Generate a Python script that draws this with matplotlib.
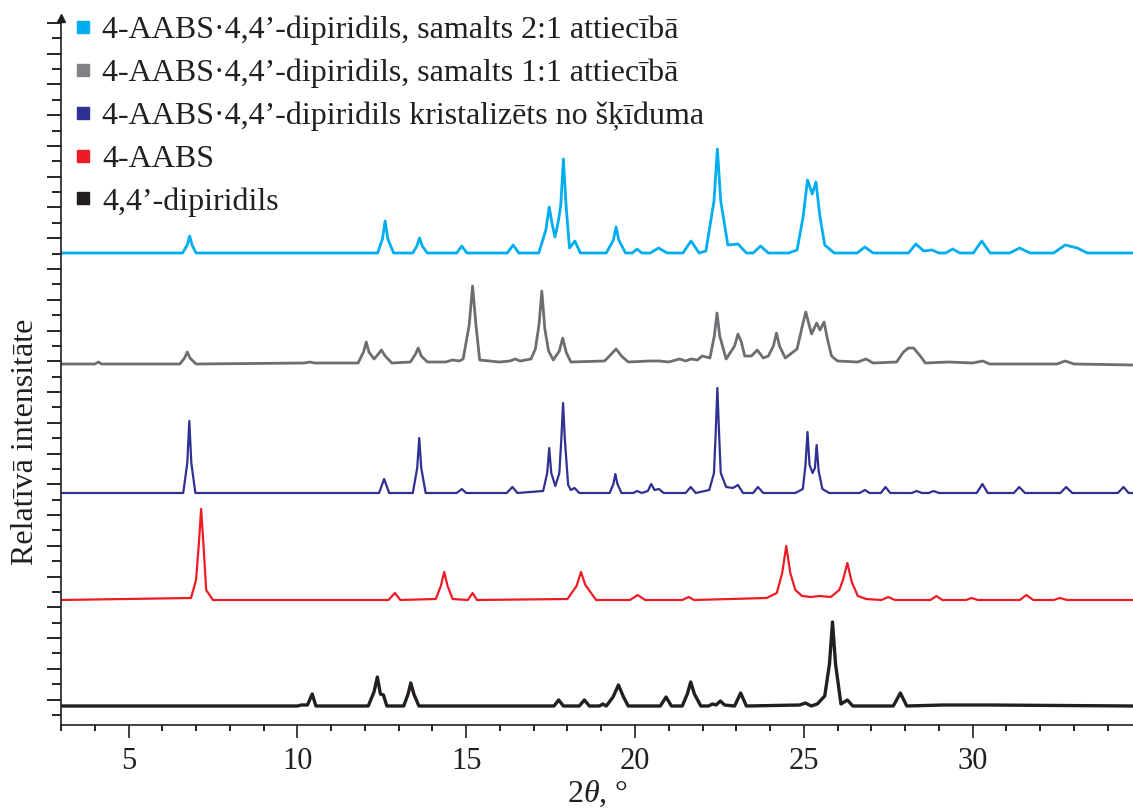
import numpy as np
import matplotlib
matplotlib.use('Agg')
import matplotlib.pyplot as plt
from matplotlib.lines import Line2D
from matplotlib.ticker import MultipleLocator, FixedLocator

# 2theta / intensity vertices (intensity above own baseline)
cyan_x = [3.0, 6.6, 6.74, 6.81, 6.88, 7.0,
          12.38, 12.52, 12.60, 12.68, 12.85,
          13.42, 13.54, 13.62, 13.70, 13.85,
          14.72, 14.87, 15.02,
          16.22, 16.39, 16.56,
          17.15, 17.36, 17.46, 17.54, 17.63, 17.72, 17.80, 17.88, 17.96, 18.06, 18.22, 18.38,
          19.15, 19.36, 19.44, 19.52, 19.72,
          19.92, 20.06, 20.2,
          20.45, 20.70, 20.95,
          21.42, 21.66, 21.9,
          22.1, 22.34, 22.44, 22.54, 22.75, 23.05, 23.3,
          23.5, 23.72, 23.95,
          24.55, 24.8, 24.98, 25.11, 25.25, 25.36, 25.48, 25.62, 25.9,
          26.58, 26.81, 27.05,
          28.1, 28.32, 28.55, 28.80, 29.0,
          29.2, 29.41, 29.62,
          30.02, 30.27, 30.52,
          31.1, 31.39, 31.7,
          32.4, 32.74, 33.1, 33.4,
          34.75]
cyan_y = [0, 0, 8, 17, 8, 0,
          0, 14, 32, 14, 0,
          0, 7, 15, 7, 0,
          0, 7, 0,
          0, 8, 0,
          0, 23, 46, 30, 16, 30, 47, 94, 47, 5, 12, 0,
          0, 13, 26, 13, 0,
          0, 4, 0,
          0, 5, 0,
          0, 12, 0,
          2, 52, 104, 52, 8, 9, 0,
          0, 7, 0,
          0, 3, 36, 73, 59, 71, 36, 8, 0,
          0, 6, 0,
          0, 9, 2, 3, 0,
          0, 4, 0,
          0, 12, 0,
          0, 5, 0,
          0, 8, 5, 0,
          0]

gray_x = [3.0, 4.0, 4.11, 4.2, 6.52, 6.66, 6.74, 6.82, 7.0,
          10.2, 10.38, 10.5,
          11.8, 11.96, 12.04, 12.12, 12.27, 12.40, 12.49, 12.6, 12.8,
          13.35, 13.50, 13.58, 13.67, 13.85,
          14.4, 14.59, 14.8, 14.91, 15.09, 15.19, 15.29, 15.40,
          15.98, 16.3, 16.45, 16.6, 16.92, 17.05, 17.16, 17.24, 17.33, 17.44, 17.58, 17.76, 17.86, 17.96, 18.1,
          19.1, 19.3, 19.44, 19.6, 19.8,
          20.43, 20.73, 21.0, 21.32, 21.5, 21.66, 21.85, 21.99, 22.22, 22.35, 22.43, 22.51, 22.7,
          22.95, 23.05, 23.15, 23.25, 23.45, 23.62, 23.8, 23.95, 24.10, 24.19, 24.28, 24.45,
          24.8, 24.97, 25.06, 25.15, 25.23, 25.38, 25.48, 25.60, 25.70, 25.82, 26.0,
          26.6, 26.84, 27.05,
          27.75, 27.95, 28.1, 28.25, 28.45, 28.6,
          29.29, 30.0, 30.30, 30.5, 32.5, 32.74, 33.0, 34.75]
gray_y = [0, 0, 2, 0, 0, 6, 12, 6, 0,
          1, 2, 1,
          1, 12, 22, 12, 5, 10, 14, 8, 1,
          2, 10, 16, 8, 2,
          2, 4, 3, 5, 39, 78, 39, 4,
          2, 3, 5, 3, 5, 15, 40, 73, 35, 13, 4, 13, 26, 12, 2,
          3, 10, 15, 8, 2,
          3, 3, 2, 5, 3, 5, 4, 8, 6, 28, 51, 28, 5,
          18, 30, 22, 8, 8, 14, 6, 8, 18, 31, 18, 6,
          15, 40, 52, 40, 30, 41, 34, 42, 25, 8, 3,
          2, 5, 1,
          2, 12, 16, 16, 8, 1,
          2, 1, 3, 0, 0, 3, 0, -1]

navy_x = [3.0, 6.62, 6.74, 6.80, 6.86, 6.98,
          12.42, 12.57, 12.72,
          13.42, 13.55, 13.61, 13.67, 13.8,
          14.72, 14.87, 15.0,
          16.2, 16.37, 16.52,
          17.28, 17.40, 17.46, 17.52, 17.64, 17.76, 17.82, 17.87, 17.92, 18.02, 18.1, 18.21, 18.35,
          19.25, 19.36, 19.42, 19.48, 19.6,
          19.95, 20.06, 20.2, 20.38, 20.48, 20.58, 20.71, 20.85,
          21.5, 21.65, 21.8,
          22.2, 22.34, 22.39, 22.44, 22.49, 22.54, 22.7, 22.9, 23.05, 23.2,
          23.5, 23.64, 23.8,
          24.75, 24.97, 25.05, 25.11, 25.17, 25.26, 25.33, 25.38, 25.44, 25.55, 25.75,
          26.65, 26.81, 26.95,
          27.28, 27.42, 27.56,
          28.2, 28.34, 28.5, 28.7, 28.84, 29.0,
          30.12, 30.29, 30.45,
          31.22, 31.38, 31.55,
          32.6, 32.77, 32.95,
          34.3, 34.47, 34.62, 34.75]
navy_y = [0, 0, 30, 72, 30, 0,
          0, 14, 0,
          0, 25, 55, 25, 0,
          0, 4, 0,
          0, 6, 0,
          2, 20, 45, 20, 7, 20, 55, 90, 55, 8, 3, 5, 0,
          0, 9, 19, 9, 0,
          0, 2, 0, 2, 9, 3, 4, 0,
          0, 6, 0,
          3, 20, 60, 105, 60, 20, 6, 5, 8, 0,
          0, 6, 0,
          0, 4, 28, 61, 28, 20, 25, 48, 22, 4, 0,
          0, 3, 0,
          0, 6, 0,
          0, 2, 0, 0, 2, 0,
          0, 9, 0,
          0, 6, 0,
          0, 6, 0,
          0, 6, 0, 0]

red_x = [3.0, 6.85, 7.0, 7.08, 7.15, 7.22, 7.30, 7.5,
         12.7, 12.89, 13.05,
         14.1, 14.25, 14.35, 14.45, 14.6,
         15.05, 15.19, 15.32,
         18.0, 18.27, 18.40, 18.53, 18.70, 18.85,
         19.85, 20.08, 20.3,
         21.4, 21.59, 21.75,
         23.9, 24.2, 24.36, 24.48, 24.60, 24.75, 24.95, 25.2, 25.47, 25.8, 26.05, 26.16, 26.29, 26.42, 26.6, 26.85,
         27.3, 27.50, 27.7,
         28.75, 28.93, 29.1,
         29.8, 29.97, 30.15,
         31.4, 31.59, 31.8,
         32.4, 32.58, 32.8, 34.75]
red_y = [0, 2, 20, 55, 91, 55, 10, 0,
         0, 7, 0,
         1, 14, 28, 14, 1,
         0, 7, 0,
         1, 14, 28, 15, 7, 0,
         0, 5, 0,
         0, 3, 0,
         2, 7, 27, 54, 27, 10, 4, 3, 4, 3, 10, 20, 37, 18, 4, 1,
         0, 3, 0,
         0, 4, 0,
         0, 2, 0,
         0, 5, 0,
         0, 2, 0, 0]

black_x = [3.0, 10.0, 10.12, 10.3, 10.44, 10.55,
           12.1, 12.27, 12.37, 12.46, 12.55, 12.65,
           13.15, 13.28, 13.36, 13.45, 13.6,
           17.6, 17.74, 17.88,
           18.35, 18.50, 18.65,
           18.95, 19.05, 19.15, 19.35, 19.51, 19.66, 19.8,
           20.75, 20.92, 21.08,
           21.4, 21.55, 21.65, 21.76, 21.95, 22.18, 22.29, 22.40, 22.53, 22.65, 22.95, 23.13, 23.3,
           24.88, 25.05, 25.22, 25.4, 25.62, 25.76, 25.85, 25.94, 26.1, 26.29, 26.45,
           27.65, 27.86, 28.05,
           29.13, 30.47, 34.75]
black_y = [0, 0, 1, 1, 12, 0,
           0, 14, 29, 12, 11, 0,
           0, 12, 23, 12, 0,
           0, 6, 0,
           0, 6, 0,
           0, 2, 0, 9, 21, 9, 0,
           0, 9, 0,
           0, 12, 24, 12, 0, 0, 2, 1, 5, 1, 0, 13, 0,
           1, 3, 0, 2, 10, 42, 84, 42, 2, 6, 0,
           0, 13, 0,
           1, 1, 0]

labels = ['4-AABS\u00b74,4\u2019-dipiridils, samalts 2:1 attiec\u012bb\u0101',
          '4-AABS\u00b74,4\u2019-dipiridils, samalts 1:1 attiec\u012bb\u0101',
          '4-AABS\u00b74,4\u2019-dipiridils kristaliz\u0113ts no \u0161\u0137\u012bduma',
          '4-AABS',
          '4,4\u2019-dipiridils']
colors = ['#00AEEF', '#6D6E71', '#2E3192', '#ED1C24', '#231F20']
marker_colors = ['#00AEEF', '#808285', '#2E3192', '#ED1C24', '#231F20']
widths = [2.0, 2.0, 1.6, 1.6, 2.4]
offsets = [472, 361, 232, 125, 19]

traces = [(cyan_x, cyan_y), (gray_x, gray_y), (navy_x, navy_y),
          (red_x, red_y), (black_x, black_y)]

plt.rcParams['font.family'] = ['Liberation Serif', 'DejaVu Serif']
plt.rcParams['mathtext.fontset'] = 'custom'
plt.rcParams['mathtext.rm'] = 'Liberation Serif'
plt.rcParams['mathtext.it'] = 'Liberation Serif:italic'

fig = plt.figure(figsize=(11.33, 8.10), dpi=100)
ax = fig.add_axes([61 / 1133, 85 / 810, 1072 / 1133, 707 / 810])

for (x, y), c, lw, off in zip(traces, colors, widths, offsets):
    ax.plot(x, np.array(y) + off, color=c, lw=lw, solid_joinstyle='round')

ax.set_xlim(3, 34.75)
ax.set_ylim(0, 707)
ax.xaxis.set_major_locator(MultipleLocator(5))
ax.xaxis.set_minor_locator(MultipleLocator(1))
ax.yaxis.set_major_locator(FixedLocator(10 + 15.38 * np.arange(1, 46, 2)))
ax.yaxis.set_minor_locator(FixedLocator(10 + 15.38 * np.arange(0, 46, 2)))
ax.set_yticklabels([])
ax.tick_params(axis='x', which='major', length=9, width=1.2, labelsize=22, pad=7, colors='#231F20')
ax.tick_params(axis='x', which='minor', length=4.5, width=1.2)
ax.tick_params(axis='y', which='major', length=10, width=1.2)
ax.tick_params(axis='y', which='minor', length=6.5, width=1.2)
for s in ['top', 'right']:
    ax.spines[s].set_visible(False)
for s in ['left', 'bottom']:
    ax.spines[s].set_linewidth(1.2)
    ax.spines[s].set_color('#231F20')

# arrow at the top of the y axis
ax.plot(0, 1, marker='^', ms=6, color='#231F20', transform=ax.transAxes, clip_on=False)

ax.set_xlabel('2$\\it{\\theta}$, \u00b0', fontsize=23, labelpad=2, color='#231F20')
ax.set_ylabel('Relat\u012bv\u0101 intensit\u0101te', fontsize=23, color='#231F20')
ax.yaxis.set_label_coords(-0.02, 0.40)

handles = [Line2D([], [], ls='none', marker='s', ms=8, color=c) for c in marker_colors]
ax.legend(handles, labels, loc='upper left', bbox_to_anchor=(-0.008, 1.035), frameon=False,
          fontsize=23, handlelength=0.5, handletextpad=0.35, labelspacing=0.42,
          borderaxespad=0.3, labelcolor='#231F20')

fig.savefig('out.png', dpi=100)
